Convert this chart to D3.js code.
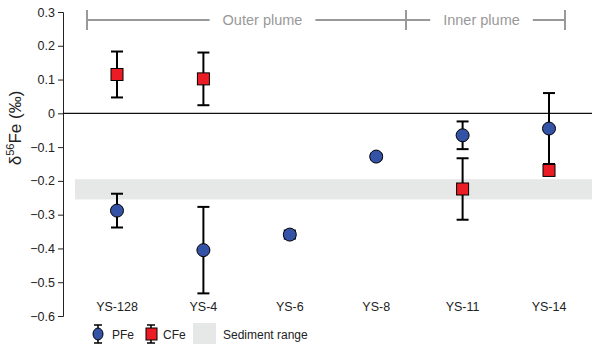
<!DOCTYPE html>
<html>
<head>
<meta charset="utf-8">
<script src="https://cdn.jsdelivr.net/npm/d3@7"></script>
<style>
  body { margin: 0; background: #fff; }
  text { font-family: Arial, "Liberation Sans", sans-serif; }
</style>
</head>
<body>
<div id="chart"></div>
<script>
var svgWidth = 600;
var svgHeight = 351;

// data
var stations = ["YS-128", "YS-4", "YS-6", "YS-8", "YS-11", "YS-14"];
var pfeValues = [-0.288, -0.405, -0.359, -0.128, -0.065, -0.045];
var pfeErrors = [0.05, 0.128, 0.012, 0.008, 0.041, 0.105];
var cfeStations = ["YS-128", "YS-4", "YS-11", "YS-14"];
var cfeValues = [0.115, 0.102, -0.224, -0.169];
var cfeErrors = [0.068, 0.078, 0.091, 0];
var sedimentRange = [-0.255, -0.195];
var yTicks = [0.3, 0.2, 0.1, 0, -0.1, -0.2, -0.3, -0.4, -0.5, -0.6];
var groups = [
  {label: "Outer plume", from: "YS-128", to: "YS-8"},
  {label: "Inner plume", from: "YS-8", to: "YS-14"}
];

var blue = "#3553a6";
var red = "#ec1c24";
var grey = "#999999";

var svg = d3.select("#chart")
  .append("svg")
  .attr("width", svgWidth)
  .attr("height", svgHeight);

var xScale = d3.scalePoint()
  .domain(stations)
  .range([117, 549]);

var yScale = d3.scaleLinear()
  .domain([-0.6, 0.3])
  .range([316, 12]);

var plotLeft = 63;
var plotRight = 592;

// sediment band
svg.append("rect")
  .attr("x", 75)
  .attr("width", plotRight - 75)
  .attr("y", yScale(sedimentRange[1]))
  .attr("height", yScale(sedimentRange[0]) - yScale(sedimentRange[1]))
  .attr("fill", "#e6e7e7");

// y axis
var leftAxis = d3.axisLeft(yScale)
  .tickValues(yTicks)
  .tickSize(5)
  .tickFormat(d => d === 0 ? "0" : d3.format(".1f")(d));

var yAxis = svg.append("g")
  .attr("transform", `translate(${plotLeft}, 0)`)
  .call(leftAxis);
yAxis.select(".domain").attr("stroke", "#222").attr("stroke-width", 1);
yAxis.selectAll(".tick line").attr("stroke", "#222");
yAxis.selectAll(".tick text")
  .attr("font-size", 12.5)
  .attr("fill", "#222")
  .attr("x", -8);

// zero line
svg.append("line")
  .attr("x1", plotLeft).attr("x2", plotRight)
  .attr("y1", yScale(0)).attr("y2", yScale(0))
  .attr("stroke", "#111").attr("stroke-width", 1.2);

// y label
var yLabel = svg.append("text")
  .attr("transform", "translate(21, 128) rotate(-90)")
  .attr("text-anchor", "middle")
  .attr("font-size", 17)
  .attr("fill", "#222");
yLabel.append("tspan").text("δ");
yLabel.append("tspan").attr("font-size", 11).attr("dy", -7).text("56");
yLabel.append("tspan").attr("dy", 7).text("Fe (‰)");

// category labels
svg.selectAll(".xlab")
  .data(stations)
  .enter()
  .append("text")
  .attr("class", "xlab")
  .attr("x", d => xScale(d))
  .attr("y", 311)
  .attr("text-anchor", "middle")
  .attr("font-size", 12.5)
  .attr("fill", "#222")
  .text(d => d);

// plume brackets
var bracketY = 20;
var bracketStart = {"YS-128": 87, "YS-8": 406, "YS-14": 565};
groups.forEach(function(g) {
  var x1 = bracketStart[g.from];
  var x2 = bracketStart[g.to];
  var mid = (x1 + x2) / 2 + (g.label === "Outer plume" ? 16 : -4);
  var label = svg.append("text")
    .attr("x", mid)
    .attr("y", bracketY + 4.5)
    .attr("text-anchor", "middle")
    .attr("font-size", 14.5)
    .attr("fill", grey)
    .text(g.label);
  var w = label.node().getComputedTextLength() / 2 + 13;
  svg.append("line")
    .attr("x1", x1).attr("x2", mid - w)
    .attr("y1", bracketY).attr("y2", bracketY)
    .attr("stroke", grey).attr("stroke-width", 2);
  svg.append("line")
    .attr("x1", mid + w).attr("x2", x2)
    .attr("y1", bracketY).attr("y2", bracketY)
    .attr("stroke", grey).attr("stroke-width", 2);
  [x1, x2].forEach(function(x) {
    svg.append("line")
      .attr("x1", x).attr("x2", x)
      .attr("y1", bracketY - 10).attr("y2", bracketY + 10)
      .attr("stroke", grey).attr("stroke-width", 2);
  });
});

// error bars
function errorBar(g, x, v, e) {
  if (e <= 0) return;
  var top = yScale(v + e), bot = yScale(v - e);
  g.append("line").attr("x1", x).attr("x2", x).attr("y1", top).attr("y2", bot)
    .attr("stroke", "#000").attr("stroke-width", 2);
  [top, bot].forEach(function(y) {
    g.append("line").attr("x1", x - 6).attr("x2", x + 6).attr("y1", y).attr("y2", y)
      .attr("stroke", "#000").attr("stroke-width", 2);
  });
}

var pfeData = stations.map((s, i) => ({station: s, value: pfeValues[i], err: pfeErrors[i]}));
var cfeData = cfeStations.map((s, i) => ({station: s, value: cfeValues[i], err: cfeErrors[i]}));

var barsGroup = svg.append("g");
pfeData.forEach(d => errorBar(barsGroup, xScale(d.station), d.value, d.err));
cfeData.forEach(d => errorBar(barsGroup, xScale(d.station), d.value, d.err));

svg.append("g").selectAll("circle")
  .data(pfeData)
  .enter()
  .append("circle")
  .attr("cx", d => xScale(d.station))
  .attr("cy", d => yScale(d.value))
  .attr("r", 6.5)
  .attr("fill", blue)
  .attr("stroke", "#000")
  .attr("stroke-width", 1);

svg.append("g").selectAll("rect")
  .data(cfeData)
  .enter()
  .append("rect")
  .attr("x", d => xScale(d.station) - 6)
  .attr("y", d => yScale(d.value) - 6)
  .attr("width", 12)
  .attr("height", 12)
  .attr("fill", red)
  .attr("stroke", "#000")
  .attr("stroke-width", 1);

// legend
var legend = svg.append("g").attr("transform", "translate(0, 334)");
function legendBar(x) {
  legend.append("line").attr("x1", x).attr("x2", x).attr("y1", -9).attr("y2", 9)
    .attr("stroke", "#000").attr("stroke-width", 1.5);
  [-9, 9].forEach(function(y) {
    legend.append("line").attr("x1", x - 4).attr("x2", x + 4).attr("y1", y).attr("y2", y)
      .attr("stroke", "#000").attr("stroke-width", 1.5);
  });
}
legendBar(98);
legend.append("ellipse").attr("cx", 98).attr("cy", 0).attr("rx", 5).attr("ry", 6)
  .attr("fill", blue).attr("stroke", "#000");
legend.append("text").attr("x", 112).attr("y", 4.5).attr("font-size", 12).attr("fill", "#222").text("PFe");
legendBar(151);
legend.append("rect").attr("x", 146).attr("y", -6).attr("width", 11).attr("height", 12)
  .attr("fill", red).attr("stroke", "#000");
legend.append("text").attr("x", 163).attr("y", 4.5).attr("font-size", 12).attr("fill", "#222").text("CFe");
legend.append("rect").attr("x", 193).attr("y", -11).attr("width", 23).attr("height", 21)
  .attr("fill", "#e6e7e7");
legend.append("text").attr("x", 223).attr("y", 4.5).attr("font-size", 12).attr("fill", "#222").text("Sediment range");
</script>
</body>
</html>
